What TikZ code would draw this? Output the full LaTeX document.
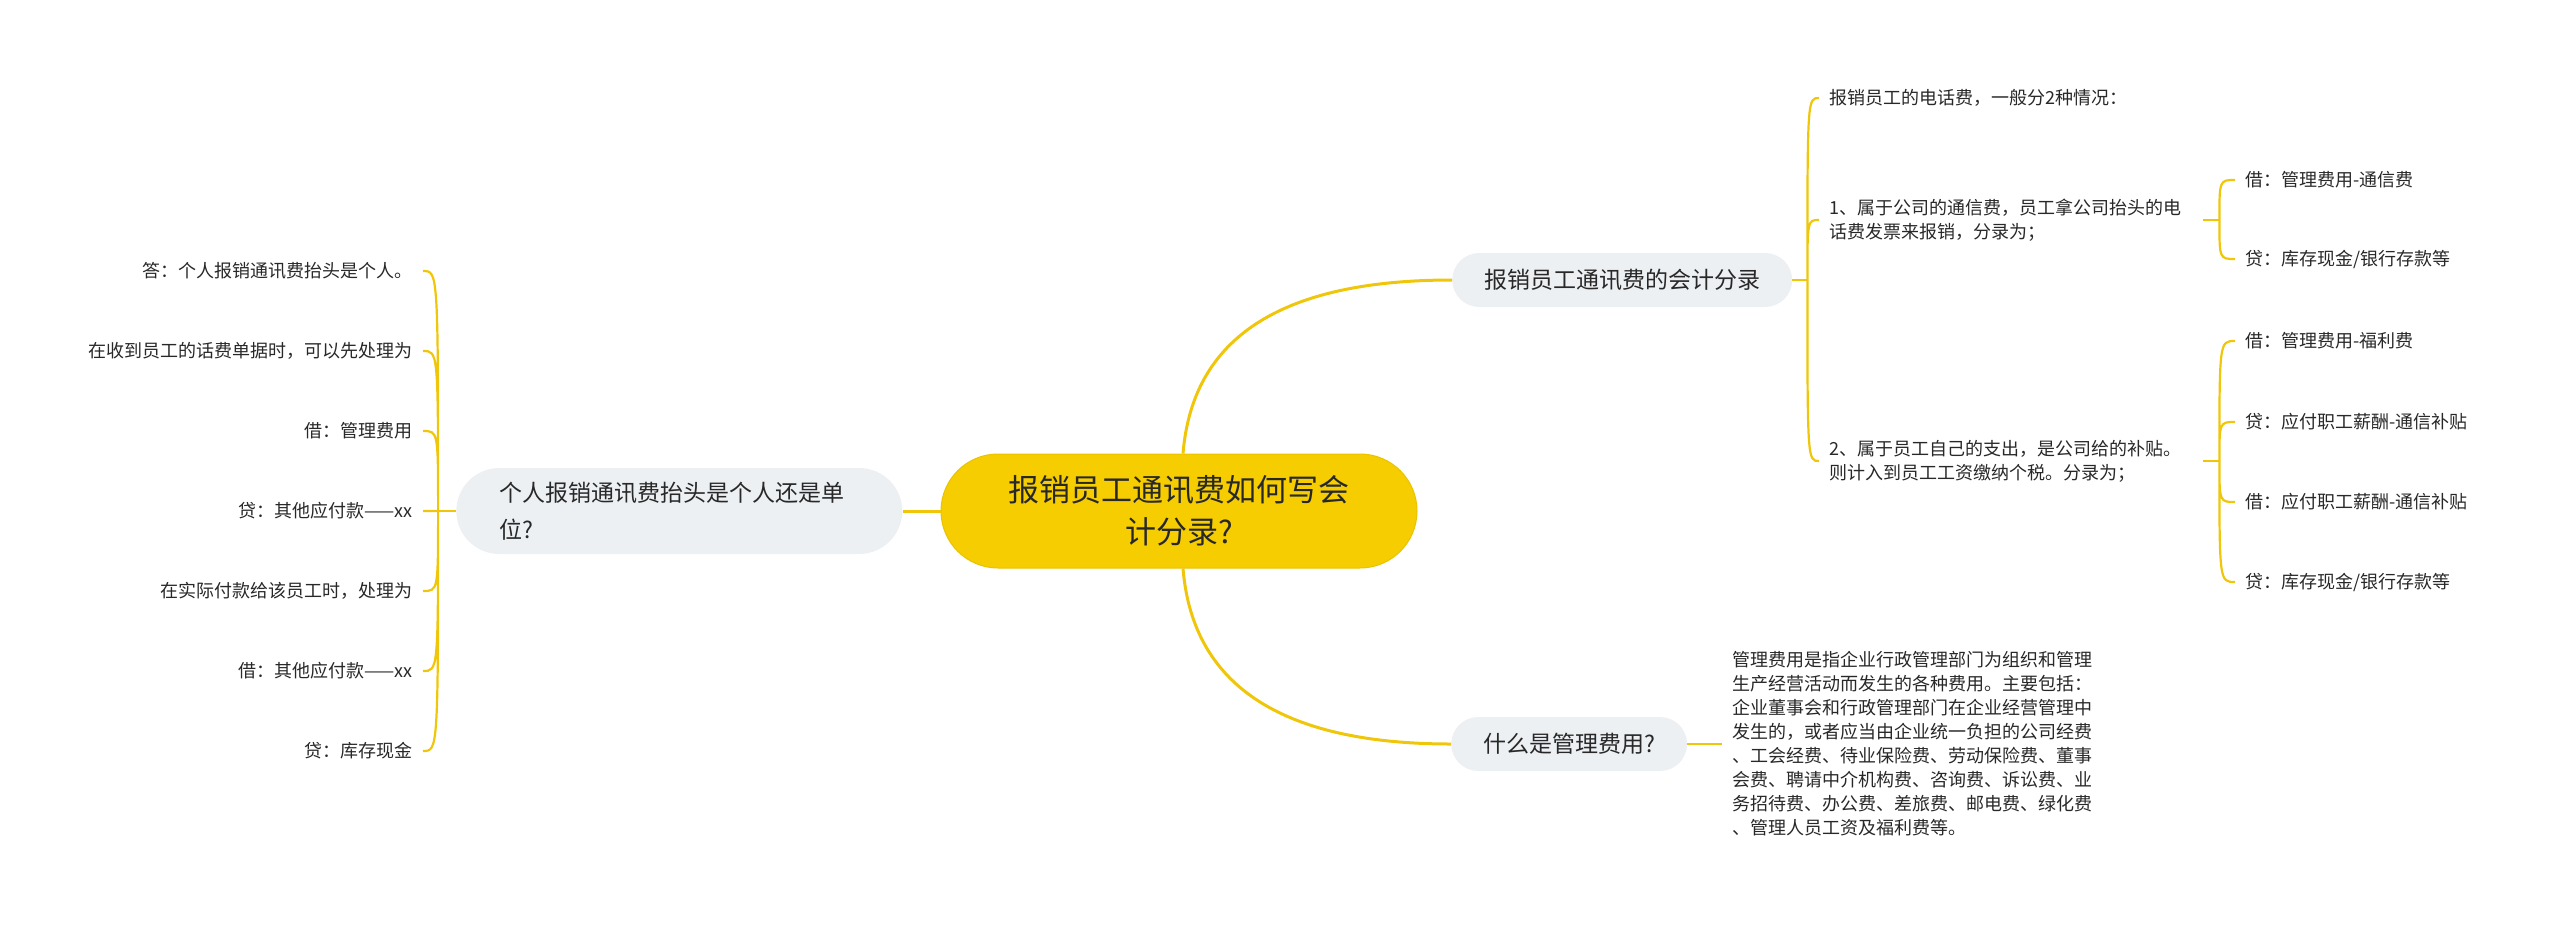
\documentclass[tikz,border=0pt]{standalone}
\usepackage{fontspec}
\setmainfont{Noto Sans CJK SC}
\usetikzlibrary{positioning}
\definecolor{gold}{RGB}{245,205,0}
\definecolor{goldline}{RGB}{240,198,10}
\definecolor{pale}{RGB}{237,240,243}
\definecolor{ink}{RGB}{40,40,40}

\begin{document}
\begin{tikzpicture}[x=1pt,y=-1pt,
    root/.style={fill=gold,draw=gold!95!black,line width=1pt,rounded corners=57pt,align=center,text=ink,font=\fontsize{31}{42}\selectfont,minimum width=476pt,minimum height=114pt},
    branch/.style={fill=pale,rounded corners=27pt,text=ink,font=\fontsize{23}{37}\selectfont,inner xsep=32pt,minimum height=54pt},
    leaf/.style={text=ink,font=\fontsize{18}{24}\selectfont,inner xsep=10pt,inner ysep=2pt,align=left},
    link/.style={draw=goldline,line width=3pt},
    twig/.style={draw=goldline,line width=2.2pt},
    curl/.style={to path={.. controls (\tikztostart |- \tikztotarget) and (\tikztostart |- \tikztotarget) .. (\tikztotarget)}}]
  \useasboundingbox (0,0) rectangle (2560,924);
  \node[root] (root) at (1179,511) {报销员工通讯费如何写会\\计分录?};
  \node[branch,align=left,text width=360pt,inner xsep=43pt,minimum height=86pt,rounded corners=43pt,left=38pt of root] (per) {个人报销通讯费抬头是个人还是单\\位?};
  \node[branch,anchor=west] (acct) at (1452,280) {报销员工通讯费的会计分录};
  \node[branch,anchor=west] (mgmt) at (1451,744) {什么是管理费用?};

  \node[leaf,anchor=east] (l1) at (423,271) {答：个人报销通讯费抬头是个人。};
  \node[leaf,anchor=east] (l2) at (423,351) {在收到员工的话费单据时，可以先处理为};
  \node[leaf,anchor=east] (l3) at (423,431) {借：管理费用};
  \node[leaf,anchor=east] (l4) at (423,511) {贷：其他应付款——xx};
  \node[leaf,anchor=east] (l5) at (423,591) {在实际付款给该员工时，处理为};
  \node[leaf,anchor=east] (l6) at (423,671) {借：其他应付款——xx};
  \node[leaf,anchor=east] (l7) at (423,751) {贷：库存现金};

  \node[leaf,anchor=west] (c0) at (1819,98) {报销员工的电话费，一般分2种情况：};
  \node[leaf,anchor=west] (c1) at (1819,220) {1、属于公司的通信费，员工拿公司抬头的电\\话费发票来报销，分录为；};
  \node[leaf,anchor=west] (c2) at (1819,461) {2、属于员工自己的支出，是公司给的补贴。\\则计入到员工工资缴纳个税。分录为；};
  \node[leaf,anchor=west] (g1) at (2235,180) {借：管理费用-通信费};
  \node[leaf,anchor=west] (g2) at (2235,259) {贷：库存现金/银行存款等};
  \node[leaf,anchor=west] (g3) at (2235,341) {借：管理费用-福利费};
  \node[leaf,anchor=west] (g4) at (2235,422) {贷：应付职工薪酬-通信补贴};
  \node[leaf,anchor=west] (g5) at (2235,502) {借：应付职工薪酬-通信补贴};
  \node[leaf,anchor=west] (g6) at (2235,582) {贷：库存现金/银行存款等};
  \node[leaf,right=35pt of mgmt] (note) {管理费用是指企业行政管理部门为组织和管理\\生产经营活动而发生的各种费用。主要包括：\\企业董事会和行政管理部门在企业经营管理中\\发生的，或者应当由企业统一负担的公司经费\\、工会经费、待业保险费、劳动保险费、董事\\会费、聘请中介机构费、咨询费、诉讼费、业\\务招待费、办公费、差旅费、邮电费、绿化费\\、管理人员工资及福利费等。};

  \draw[link] (root) -- (per);
  \draw[link] ([xshift=4pt]root.north) .. controls +(10,-122) and +(-162,0) .. (acct.west);
  \draw[link] ([xshift=4pt]root.south) .. controls +(10,122) and +(-162,0) .. (mgmt.west);
  \draw[twig] (per.west) -- ++(-18,0) coordinate (jl);
  \draw[twig] (jl) to[curl] (l1.east) (jl) to[curl] (l2.east) (jl) to[curl] (l3.east) (jl) -- (l4.east)
    (jl) to[curl] (l5.east) (jl) to[curl] (l6.east) (jl) to[curl] (l7.east);
  \draw[twig] (acct.east) -- ++(15,0) coordinate (ja);
  \draw[twig] (ja) to[curl] (c0.west) (ja) to[curl] (c1.west) (ja) to[curl] (c2.west);
  \draw[twig,shorten <=12pt] (c1.east) -- ++(28,0) coordinate (j1);
  \draw[twig] (j1) to[curl] (g1.west) (j1) to[curl] (g2.west);
  \draw[twig,shorten <=12pt] (c2.east) -- ++(28,0) coordinate (j2);
  \draw[twig] (j2) to[curl] (g3.west) (j2) to[curl] (g4.west) (j2) to[curl] (g5.west) (j2) to[curl] (g6.west);
  \draw[twig] (mgmt) -- (note);
\end{tikzpicture}
\end{document}
